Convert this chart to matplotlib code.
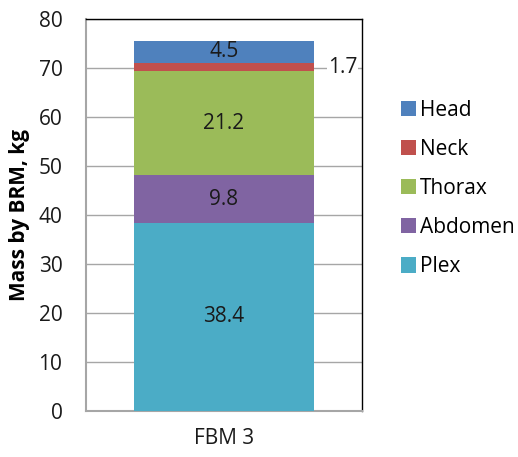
import matplotlib.pyplot as plt
from matplotlib.patches import Patch

plt.rcParams['font.family'] = ['Open Sans', 'DejaVu Sans']

category = 'FBM 3'
parts = ['Plex', 'Abdomen', 'Thorax', 'Neck', 'Head']
masses = [38.4, 9.8, 21.2, 1.7, 4.5]
colors = ['#4BACC6', '#8064A2', '#9BBB59', '#C0504D', '#4F81BD']
yticks = [0, 10, 20, 30, 40, 50, 60, 70, 80]

fig = plt.figure(figsize=(5.18, 4.57), dpi=100)
ax = fig.add_axes([0.166, 0.1007, 0.533, 0.857])

bottom = 0
for name, m, c in zip(parts, masses, colors):
    ax.bar(0, m, width=0.65, bottom=bottom, color=c, zorder=3)
    if name == 'Neck':
        ax.text(0.43, bottom + m / 2, f'{m:.1f}', ha='center', va='center',
                fontsize=15, color='#1a1a1a', zorder=4,
                bbox=dict(facecolor='white', edgecolor='none', pad=0.5))
    else:
        ax.text(0, bottom + m / 2, f'{m:.1f}', ha='center', va='center',
                fontsize=15, color='#1a1a1a', zorder=4)
    bottom += m

ax.set_xlim(-0.5, 0.5)
ax.set_ylim(0, 80)
ax.set_yticks(yticks)
ax.set_xticks([0])
ax.set_xticklabels([category])
ax.tick_params(axis='both', length=0, labelsize=15, colors='#1a1a1a')
ax.tick_params(axis='x', pad=12)
ax.tick_params(axis='y', pad=17)
ax.yaxis.grid(True, color='#a6a6a6', linewidth=1, zorder=0)

for side in ['left', 'bottom']:
    ax.spines[side].set_color('#a6a6a6')
    ax.spines[side].set_linewidth(1.5)
for side in ['top', 'right']:
    ax.spines[side].set_color('black')
    ax.spines[side].set_linewidth(1)

ax.set_ylabel('Mass by BRM, kg', fontsize=15, fontweight='bold', labelpad=6)

handles = [Patch(facecolor=c, label=n) for n, c in zip(parts[::-1], colors[::-1])]
fig.legend(handles=handles, loc='upper left', bbox_to_anchor=(0.758, 0.8),
           frameon=False, fontsize=15, handlelength=0.7, handleheight=0.75,
           handletextpad=0.2, labelspacing=0.87, borderaxespad=0)

fig.savefig('out.png', dpi=100)
